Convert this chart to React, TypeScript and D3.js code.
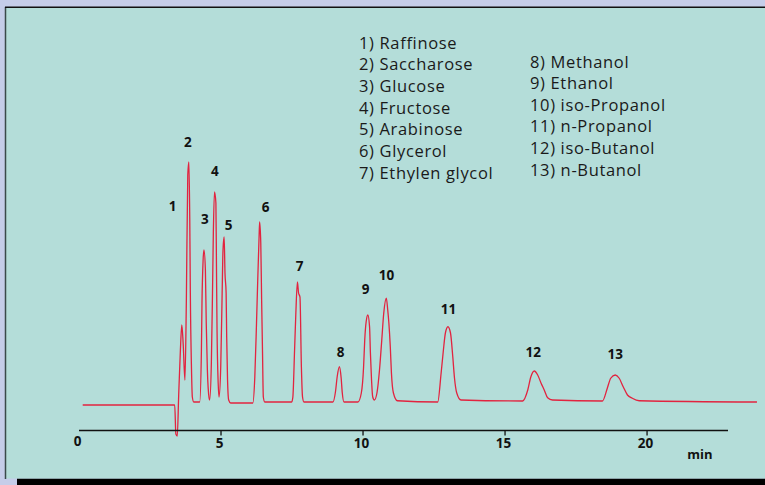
import React from "react";
import * as d3 from "d3";

// Chromatogram trace (time in min, signal in arbitrary units)
const traceTime = [0.13, 3.37, 3.41, 3.46, 3.51, 3.57, 3.62, 3.67, 3.73, 3.78, 3.83, 3.87, 3.9, 3.92, 3.96, 3.99, 4.04, 4.25, 4.31, 4.33, 4.37, 4.4, 4.45, 4.48, 4.52, 4.58, 4.6, 4.66, 4.7, 4.73, 4.77, 4.82, 4.84, 4.86, 4.9, 4.93, 4.99, 5.04, 5.07, 5.11, 5.14, 5.18, 5.2, 5.23, 5.27, 5.34, 6.12, 6.19, 6.25, 6.29, 6.34, 6.36, 6.4, 6.43, 6.46, 6.49, 6.54, 7.49, 7.53, 7.59, 7.63, 7.69, 7.73, 7.78, 7.83, 7.87, 7.92, 8.94, 9.03, 9.09, 9.17, 9.23, 9.27, 9.33, 9.82, 9.94, 10.02, 10.06, 10.11, 10.17, 10.23, 10.26, 10.3, 10.34, 10.4, 10.49, 10.58, 10.66, 10.73, 10.82, 10.87, 10.91, 10.96, 11.0, 11.07, 11.21, 12.63, 12.75, 12.83, 12.9, 12.99, 13.08, 13.16, 13.22, 13.3, 13.45, 15.62, 15.8, 15.91, 16.03, 16.15, 16.27, 16.38, 16.5, 16.67, 18.43, 18.6, 18.72, 18.88, 19.02, 19.16, 19.31, 19.48, 19.72, 23.87];
const traceSignal = [0, 0, -11.6, -12.4, 4, 22, 32, 24, 10, 42, 92, 97.2, 74, 44.8, 14.8, 3.2, 1.2, 1.2, 22, 40.8, 58, 62, 54, 32.8, 14, 2.8, 2, 16.8, 44.8, 68.8, 85.2, 80.8, 55.2, 30, 8.8, 3.2, 15.2, 44.8, 62, 67.2, 52.8, 44.8, 27.2, 10, 2, 0.8, 0.8, 11.2, 32.8, 48.8, 67.2, 73.2, 64.8, 42, 22, 3.2, 1.2, 1.2, 3.2, 22, 35.2, 49.2, 44.8, 43.2, 15.2, 3.2, 1.2, 1.2, 5.3, 11.3, 15.3, 10.8, 4.8, 1.2, 1.2, 4.8, 15.3, 26, 33.3, 36, 31.3, 20.8, 10, 3.3, 2, 4.8, 14, 26, 36.8, 42.7, 38, 32.8, 23.3, 12.8, 4.8, 1.7, 1.2, 12.8, 22, 28.8, 31.3, 28.8, 19.3, 10.8, 4.8, 2, 1.6, 6, 11.3, 13.6, 12, 8.7, 6, 2.9, 2, 1.6, 6.7, 10.7, 12, 10.7, 7.3, 4, 2.7, 1.7, 1.2];

// Peak number labels (anchor in data units)
const peakLabels = ["1", "2", "3", "4", "5", "6", "7", "8", "9", "10", "11", "12", "13"];
const peakLabelTime = [3.3, 3.83, 4.43, 4.78, 5.27, 6.57, 7.77, 9.21, 10.09, 10.83, 13.01, 15.99, 18.88];
const peakLabelSignal = [77.6, 103.2, 72.4, 91.6, 70, 77.2, 53.6, 19.2, 44.4, 50, 36.4, 19.2, 18.4];

// Legend
const legendCol1 = ["1) Raffinose", "2) Saccharose", "3) Glucose", "4) Fructose", "5) Arabinose", "6) Glycerol", "7) Ethylen glycol"];
const legendCol2 = ["8) Methanol", "9) Ethanol", "10) iso-Propanol", "11) n-Propanol", "12) iso-Butanol", "13) n-Butanol"];

// Axis
const tickValues = [0, 5, 10, 15, 20];
const tickLabels = ["0", "5", "10", "15", "20"];
const axisMax = 22.85;
const axisUnit = "min";

const W = 765;
const H = 485;

export default function App() {
  const x = d3.scaleLinear().domain([0, axisMax]).range([79, 728]);
  const y = d3.scaleLinear().domain([0, 100]).range([405, 155]);
  const axisY = 430.5;

  const pts = traceTime.map((t, i) => [t, traceSignal[i]] as [number, number]);
  const line = d3
    .line<[number, number]>()
    .x((d) => x(d[0]))
    .y((d) => y(d[1]))
    .curve(d3.curveMonotoneX);

  const font = "'Open Sans', 'Noto Sans', sans-serif";

  return (
    <svg
      width={W}
      height={H}
      style={{ position: "absolute", left: 0, top: 0, display: "block" }}
    >
      {/* outer background */}
      <rect x={0} y={0} width={W} height={H} fill="#c5cde9" />
      {/* bottom black bar */}
      <rect x={17} y={478.5} width={W - 17} height={H - 478.5} fill="#000" />
      {/* panel */}
      <rect x={6} y={7} width={W - 6} height={471.5} fill="#b4ddd9" />
      <line x1={5.5} y1={7} x2={5.5} y2={479} stroke="#3a4a4a" strokeWidth={1.5} />
      <line x1={5} y1={7.2} x2={W} y2={7.2} stroke="#111" strokeWidth={1.5} />

      {/* legend */}
      <g fontFamily={font} fontSize={16.5} letterSpacing={0.65} fill="#1a1a1a">
        {legendCol1.map((s, i) => (
          <text key={s} x={359} y={48.5 + 21.7 * i}>
            {s}
          </text>
        ))}
        {legendCol2.map((s, i) => (
          <text key={s} x={530} y={67.5 + 21.6 * i}>
            {s}
          </text>
        ))}
      </g>

      {/* trace */}
      <path d={line(pts) || ""} fill="none" stroke="#e2233f" strokeWidth={1.3} strokeLinejoin="round" />

      {/* peak labels */}
      <g fontFamily={font} fontWeight={700} fontSize={13.5} fill="#111" textAnchor="middle">
        {peakLabels.map((s, i) => (
          <text key={s} x={x(peakLabelTime[i])} y={y(peakLabelSignal[i])}>
            {s}
          </text>
        ))}
      </g>

      {/* x axis */}
      <line x1={x(0)} y1={axisY} x2={x(axisMax)} y2={axisY} stroke="#111" strokeWidth={1.5} />
      {tickValues.map((v) =>
        v === 0 ? null : (
          <line key={"t" + v} x1={x(v)} y1={axisY} x2={x(v)} y2={axisY + 5} stroke="#111" strokeWidth={1.3} />
        )
      )}
      <g fontFamily={font} fontWeight={700} fontSize={13.5} fill="#111" textAnchor="middle">
        {tickValues.map((v, i) => (
          <text key={"l" + v} x={x(v) - 1.5} y={v === 0 ? 446 : 448}>
            {tickLabels[i]}
          </text>
        ))}
      </g>
      <text x={700} y={459} fontFamily={font} fontWeight={700} fontSize={13} fill="#111" textAnchor="middle">
        {axisUnit}
      </text>
    </svg>
  );
}
